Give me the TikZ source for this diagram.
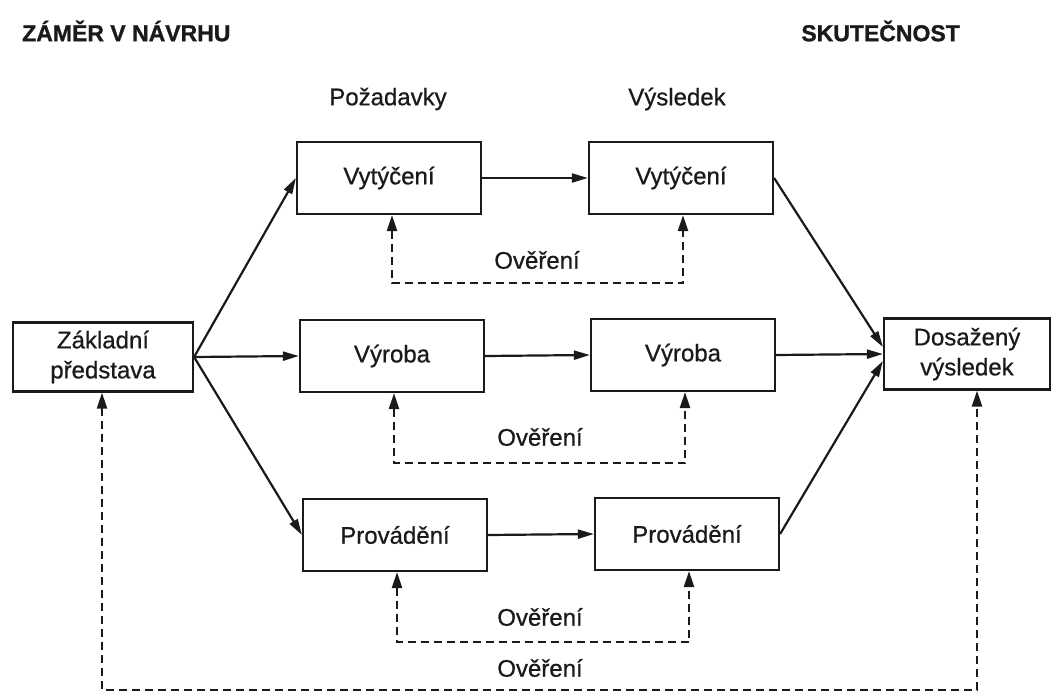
\documentclass[tikz,border=0pt]{standalone}
\usepackage{fontspec}
\setmainfont{Liberation Sans}
\newfontfamily\semifont[FakeBold=0.7]{Liberation Sans}
\newfontfamily\heavyfont[FakeBold=1.2]{Liberation Sans Bold}
\usetikzlibrary{arrows.meta,calc}
\definecolor{ink}{HTML}{1A1A1A}
\begin{document}
\begin{tikzpicture}[x=1pt,y=-1pt,
  box/.style={draw=ink, line width=2.2pt, inner sep=0pt, minimum width=184pt, minimum height=72pt,
    font=\semifont\fontsize{24}{30}\selectfont, text=ink, align=center},
  lbl/.style={inner sep=0pt, font=\semifont\fontsize{24}{30}\selectfont, text=ink},
  hdr/.style={inner sep=0pt, font=\heavyfont\fontsize{23}{26}\selectfont, text=ink},
  flow/.style={draw=ink, line width=2.2pt, -{Triangle[length=16pt,width=9pt]}},
  check/.style={draw=ink, line width=2.4pt, dash pattern=on 8pt off 5pt,
    {Triangle[length=16pt,width=10pt]}-{Triangle[length=16pt,width=10pt]}}
]
\useasboundingbox[fill=white] (0,0) rectangle (1056,695);

% headers
\node[hdr, anchor=west] (h1) at (22,31) {ZÁMĚR V NÁVRHU};
\node[hdr, anchor=east] (h2) at (960,31) {SKUTEČNOST};
\node[lbl] (poz) at (388,99) {Požadavky};
\node[lbl] (vys) at (677,99) {Výsledek};

% boxes
\node[box, minimum width=180pt, minimum height=69pt] (zakl) at (103,357) {Základní\\představa};
\node[box, minimum width=166pt, minimum height=71pt] (dos) at (967,354) {Dosažený\\výsledek};
\node[box] (vytL) at (389,178) {Vytýčení};
\node[box] (vytR) at (681,178) {Vytýčení};
\node[box] (vyrL) at (392,356) {Výroba};
\node[box] (vyrR) at (683,355) {Výroba};
\node[box] (proL) at (395,535) {Provádění};
\node[box] (proR) at (687,534) {Provádění};

% solid flows
\draw[flow] (zakl.east) -- (vytL.west);
\draw[flow] (zakl.east) -- (vyrL.west);
\draw[flow] (zakl.east) -- (proL.west);
\draw[flow] (vytL.east) -- (vytR.west);
\draw[flow] (vyrL.east) -- (vyrR.west);
\draw[flow] (proL.east) -- (proR.west);
\draw[flow] (vytR.east) -- ($(dos.west)+(0,-7)$);
\draw[flow] (vyrR.east) -- (dos.west);
\draw[flow] (proR.east) -- ($(dos.west)+(0,7)$);

% verification loops
\coordinate (c1) at (537,283);
\coordinate (c2) at (540,463);
\coordinate (c3) at (540,642);
\coordinate (c4) at (540,690);
\draw[check] ($(vytL.south)+(3,0)$) |- (c1) -| ($(vytR.south)+(2,0)$);
\draw[check] ($(vyrL.south)+(2,0)$) |- (c2) -| ($(vyrR.south)+(2,0)$);
\draw[check] ($(proL.south)+(2,0)$) |- (c3) -| ($(proR.south)+(2,0)$);
\draw[check] ($(zakl.south)+(-1,0)$) |- (c4) -| ($(dos.south)+(10,0)$);

\node[lbl] (o1) at (537,260) {Ověření};
\node[lbl] (o2) at (540,437) {Ověření};
\node[lbl] (o3) at (540,617) {Ověření};
\node[lbl] (o4) at (540,668) {Ověření};
\end{tikzpicture}
\end{document}
